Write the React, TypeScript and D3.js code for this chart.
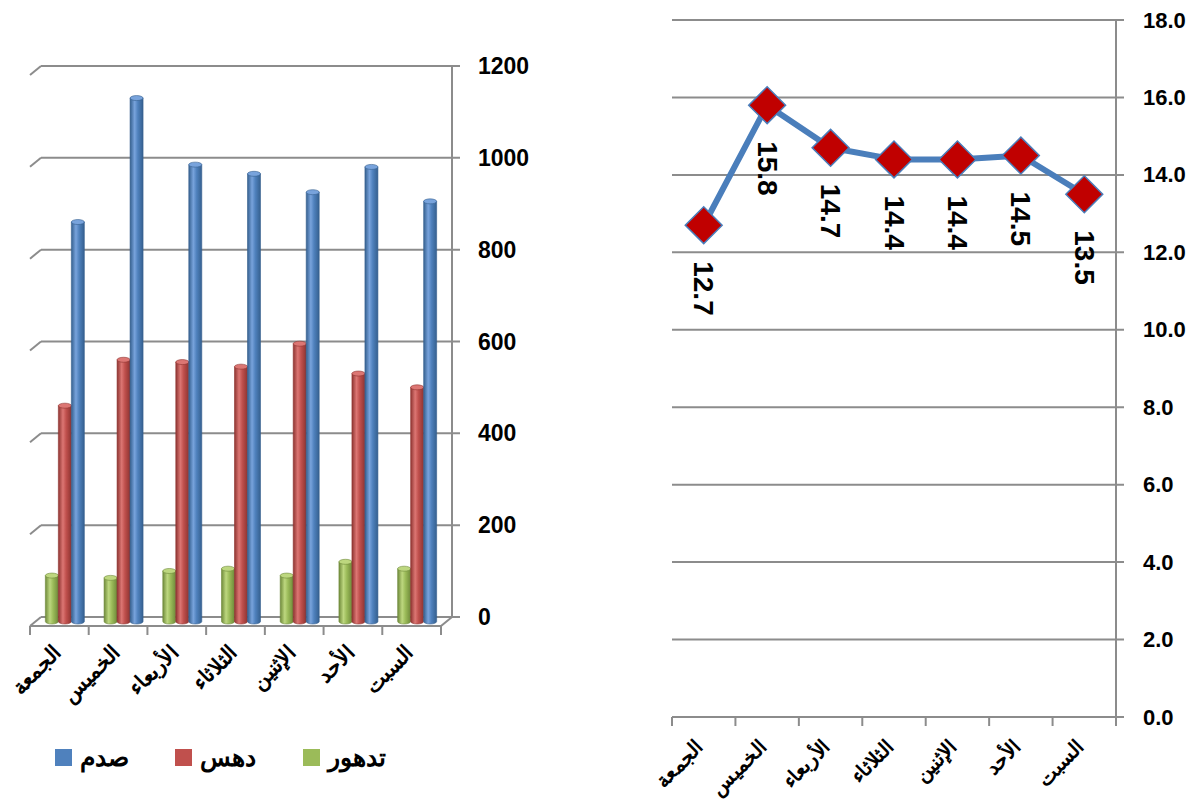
import React, { useEffect, useRef } from 'react';
import * as d3 from 'd3';

// days (left to right as drawn)
const days = ['الجمعة', 'الخميس', 'الأربعاء', 'الثلاثاء', 'الإثنين', 'الأحد', 'السبت'];

// left chart series
const seriesNames = ['تدهور', 'دهس', 'صدم'];
const rolloverVals = [100, 95, 110, 115, 100, 130, 115];
const runoverVals = [470, 570, 565, 555, 605, 540, 510];
const collisionVals = [870, 1140, 995, 975, 935, 990, 915];
const leftTicks = [0, 200, 400, 600, 800, 1000, 1200];

// right chart series
const rateVals = [12.7, 15.8, 14.7, 14.4, 14.4, 14.5, 13.5];
const rightTicks = [0, 2, 4, 6, 8, 10, 12, 14, 16, 18];

const colors = ['#9BBB59', '#C0504D', '#4F81BD'];
const darkColors = ['#6f8a3a', '#8e3431', '#35608f'];
const lightColors = ['#bdd77f', '#dc7673', '#78a3dc'];

const FONT = '"Liberation Sans", Arial, sans-serif';
const GRID = '#8c8c8c';

const App = () => {
  const ref = useRef<SVGSVGElement>(null);

  useEffect(() => {
    const svg = d3.select(ref.current);
    svg.selectAll('*').remove();

    const defs = svg.append('defs');
    colors.forEach((c, i) => {
      const g = defs.append('linearGradient').attr('id', `cyl${i}`).attr('x1', 0).attr('x2', 1).attr('y1', 0).attr('y2', 0);
      g.append('stop').attr('offset', '0%').attr('stop-color', darkColors[i]);
      g.append('stop').attr('offset', '35%').attr('stop-color', lightColors[i]);
      g.append('stop').attr('offset', '60%').attr('stop-color', c);
      g.append('stop').attr('offset', '100%').attr('stop-color', darkColors[i]);
    });

    // ---------- left: 3D cylinder column chart ----------
    const depthX = -11, depthY = 9;
    const yL = d3.scaleLinear().domain([0, 1200]).range([617, 66]);
    const xL = d3.scaleBand().domain(days).range([41, 452]);
    const xFront = d3.scaleBand().domain(days).range([41 + depthX, 452 + depthX]);

    const left = svg.append('g');

    leftTicks.forEach(t => {
      const y = yL(t);
      left.append('line').attr('x1', 41).attr('x2', 460).attr('y1', y).attr('y2', y)
        .attr('stroke', GRID).attr('stroke-width', 2);
      left.append('line').attr('x1', 41).attr('x2', 41 + depthX).attr('y1', y).attr('y2', y + depthY)
        .attr('stroke', GRID).attr('stroke-width', 2);
      left.append('text').attr('x', 478).attr('y', y).attr('dominant-baseline', 'central')
        .attr('font-family', FONT).attr('font-weight', 'bold').attr('font-size', 23)
        .text(t);
    });
    left.append('line').attr('x1', 452).attr('x2', 452).attr('y1', yL(1200)).attr('y2', yL(0))
      .attr('stroke', GRID).attr('stroke-width', 2);
    // floor front + right edge
    left.append('path')
      .attr('d', `M${41 + depthX},${yL(0) + depthY}H${452 + depthX}L452,${yL(0)}`)
      .attr('fill', 'none').attr('stroke', GRID).attr('stroke-width', 2);
    // category ticks
    const boundaries = days.map(d => xFront(d)!).concat([452 + depthX]);
    boundaries.forEach(x => {
      left.append('line').attr('x1', x).attr('x2', x).attr('y1', yL(0) + depthY).attr('y2', yL(0) + depthY + 9)
        .attr('stroke', GRID).attr('stroke-width', 2);
    });

    const barW = 13;
    const ry = 2.5;
    const allSeries = [rolloverVals, runoverVals, collisionVals];
    allSeries.forEach((vals, si) => {
      const g = left.append('g');
      vals.forEach((v, i) => {
        const cx = xL(days[i])! + xL.bandwidth() / 2 + depthX / 2;
        const x0 = cx - (3 * barW) / 2 + si * barW;
        const yTop = yL(v) + depthY / 2;
        const yBot = yL(0) + depthY / 2;
        g.append('path')
          .attr('d', `M${x0},${yTop}V${yBot}A${barW / 2},${ry} 0 0 0 ${x0 + barW},${yBot}V${yTop}Z`)
          .attr('fill', `url(#cyl${si})`).attr('stroke', darkColors[si]).attr('stroke-width', 0.6);
        g.append('ellipse').attr('cx', x0 + barW / 2).attr('cy', yTop).attr('rx', barW / 2).attr('ry', ry)
          .attr('fill', lightColors[si]).attr('stroke', darkColors[si]).attr('stroke-width', 0.6);
      });
    });

    days.forEach(d => {
      const cx = xFront(d)! + xFront.bandwidth() / 2 + 3;
      const cy = yL(0) + depthY + 28;
      left.append('text')
        .attr('transform', `translate(${cx},${cy}) rotate(-45)`)
        .attr('text-anchor', 'end')
        .attr('font-family', FONT).attr('font-weight', 'bold').attr('font-size', 21)
        .text(d);
    });

    // legend (blue, red, green from left)
    const legendX = [55, 175, 303];
    [2, 1, 0].forEach((si, k) => {
      left.append('rect').attr('x', legendX[k]).attr('y', 749).attr('width', 17).attr('height', 17)
        .attr('fill', colors[si]);
      left.append('text').attr('x', legendX[k] + 25).attr('y', 757).attr('dominant-baseline', 'central')
        .attr('font-family', FONT).attr('font-weight', 'bold').attr('font-size', 25)
        .text(seriesNames[si]);
    });

    // ---------- right: line chart ----------
    const xR = d3.scaleBand().domain(days).range([672, 1116]);
    const yR = d3.scaleLinear().domain([0, 18]).range([717, 20]);
    const right = svg.append('g');

    rightTicks.forEach(t => {
      const y = yR(t);
      right.append('line').attr('x1', 672).attr('x2', 1124).attr('y1', y).attr('y2', y)
        .attr('stroke', GRID).attr('stroke-width', 2);
      right.append('text').attr('x', 1143).attr('y', y).attr('dominant-baseline', 'central')
        .attr('font-family', FONT).attr('font-weight', 'bold').attr('font-size', 22)
        .text(t.toFixed(1));
    });
    right.append('line').attr('x1', 1116).attr('x2', 1116).attr('y1', yR(18)).attr('y2', yR(0))
      .attr('stroke', GRID).attr('stroke-width', 2);
    days.map(d => xR(d)!).concat([1116]).forEach(x => {
      right.append('line').attr('x1', x).attr('x2', x).attr('y1', yR(0)).attr('y2', yR(0) + 9)
        .attr('stroke', GRID).attr('stroke-width', 2);
    });

    const px = (i: number) => xR(days[i])! + xR.bandwidth() / 2;
    const line = d3.line<number>().x((_, i) => px(i)).y(v => yR(v));
    right.append('path').attr('d', line(rateVals)).attr('fill', 'none')
      .attr('stroke', '#4A7EBB').attr('stroke-width', 6).attr('stroke-linejoin', 'round');

    const diamond = d3.symbol().type(d3.symbolSquare).size(680);
    rateVals.forEach((v, i) => {
      right.append('path').attr('d', diamond()!)
        .attr('transform', `translate(${px(i)},${yR(v)}) rotate(45)`)
        .attr('fill', '#C00000').attr('stroke', '#4A7EBB').attr('stroke-width', 1.5);
      right.append('text')
        .attr('transform', `translate(${px(i)},${yR(v) + 36}) rotate(90)`)
        .attr('dominant-baseline', 'central')
        .attr('font-family', FONT).attr('font-weight', 'bold').attr('font-size', 28)
        .text(v.toFixed(1));
    });

    days.forEach(d => {
      const cx = xR(d)! + xR.bandwidth() / 2 + 1;
      right.append('text')
        .attr('transform', `translate(${cx},${yR(0) + 31}) rotate(-45)`)
        .attr('text-anchor', 'end')
        .attr('font-family', FONT).attr('font-weight', 'bold').attr('font-size', 20)
        .text(d);
    });
  }, []);

  return (
    <svg ref={ref} width={1195} height={802}
      style={{ position: 'absolute', left: 0, top: 0, background: '#fff' }} />
  );
};

export default App;
